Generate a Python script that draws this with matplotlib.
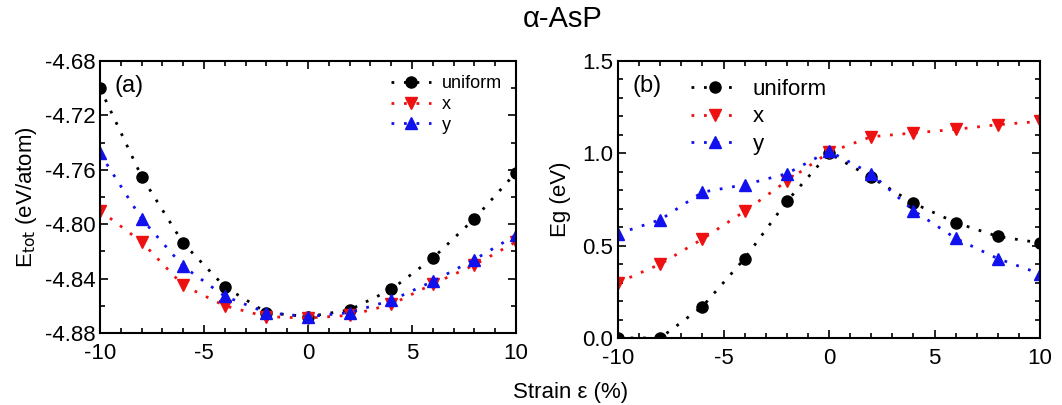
import numpy as np
import matplotlib.pyplot as plt
from matplotlib.ticker import MultipleLocator

plt.rcParams['font.family'] = ['Liberation Sans', 'DejaVu Sans']
plt.rcParams['axes.unicode_minus'] = False

# strain values (%)
strain = [-10, -8, -6, -4, -2, 0, 2, 4, 6, 8, 10]

# (a) total energy (eV/atom)
etot_uniform = [-4.700, -4.765, -4.814, -4.846, -4.865, -4.868, -4.863, -4.848, -4.825, -4.796, -4.762]
etot_x = [-4.790, -4.813, -4.845, -4.860, -4.868, -4.869, -4.867, -4.859, -4.844, -4.830, -4.813]
etot_y = [-4.748, -4.796, -4.831, -4.853, -4.865, -4.868, -4.865, -4.856, -4.842, -4.826, -4.808]

# (b) band gap (eV)
eg_uniform = [0.0, 0.0, 0.17, 0.43, 0.74, 1.00, 0.87, 0.73, 0.625, 0.55, 0.515]
eg_x = [0.30, 0.40, 0.536, 0.686, 0.85, 1.005, 1.09, 1.11, 1.13, 1.155, 1.173]
eg_y = [0.565, 0.64, 0.79, 0.83, 0.89, 1.012, 0.89, 0.69, 0.54, 0.43, 0.348]

series_labels = ['uniform', 'x', 'y']
colors = ['black', '#ee1111', '#1111ee']
markers = ['o', 'v', '^']

fig = plt.figure(figsize=(10.62, 4.05), dpi=100)
ax1 = fig.add_axes([100/1062, 72/405, 416/1062, 272/405])
ax2 = fig.add_axes([618/1062, 67/405, 422/1062, 277/405])

ls = (0, (1, 3.5))
for ax, data in [(ax1, [etot_uniform, etot_x, etot_y]), (ax2, [eg_uniform, eg_x, eg_y])]:
    for vals, lab, c, m in zip(data, series_labels, colors, markers):
        ax.plot(strain, vals, linestyle=ls, lw=2, color=c, marker=m, ms=8,
                label=lab)
    ax.set_xlim(-10, 10)
    ax.xaxis.set_major_locator(MultipleLocator(5))
    ax.xaxis.set_minor_locator(MultipleLocator(1))
    ax.tick_params(which='both', direction='in', top=True, right=True, width=1.2)
    ax.tick_params(which='major', length=6, labelsize=16)
    ax.tick_params(which='minor', length=3.5)
    ax.tick_params(axis='x', which='major', pad=7)
    for s in ax.spines.values():
        s.set_linewidth(1.5)

ax1.set_ylim(-4.88, -4.68)
ax1.yaxis.set_major_locator(MultipleLocator(0.04))
ax1.yaxis.set_minor_locator(MultipleLocator(0.02))
ax1.yaxis.set_major_formatter(plt.FormatStrFormatter('%.2f'))
ax1.set_ylabel(r'E$_{\rm tot}$ (eV/atom)', fontsize=16, labelpad=4)
ax1.text(0.035, 0.95, '(a)', transform=ax1.transAxes, fontsize=17, va='top')
ax1.legend(loc='upper right', fontsize=13, frameon=False, handlelength=2.2,
           handletextpad=0.6, labelspacing=0.2, borderaxespad=0.4)

ax2.set_ylim(0, 1.5)
ax2.yaxis.set_major_locator(MultipleLocator(0.5))
ax2.yaxis.set_minor_locator(MultipleLocator(0.1))
ax2.yaxis.set_major_formatter(plt.FormatStrFormatter('%.1f'))
ax2.set_ylabel('Eg (eV)', fontsize=16, labelpad=8)
ax2.text(0.035, 0.95, '(b)', transform=ax2.transAxes, fontsize=17, va='top')
ax2.legend(loc='upper left', bbox_to_anchor=(0.13, 1.0), fontsize=16, frameon=False,
           handlelength=2.2, handletextpad=0.6, labelspacing=0.3, borderaxespad=0.4)

fig.text(0.53, 0.952, 'α-AsP', fontsize=21, ha='center', va='center')
fig.text(0.537, 0.032, 'Strain ε (%)', fontsize=16, ha='center', va='center')

fig.savefig('out.png', dpi=100)
